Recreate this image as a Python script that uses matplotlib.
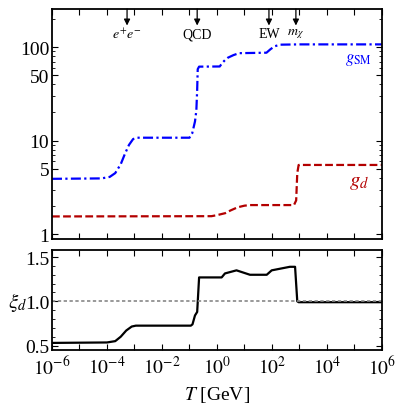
import numpy as np
import matplotlib
matplotlib.use("Agg")
import matplotlib.pyplot as plt
from matplotlib.ticker import FixedLocator, NullLocator, FuncFormatter

plt.rcParams["font.family"] = ["Liberation Serif", "DejaVu Serif"]
plt.rcParams["mathtext.fontset"] = "stix"

# log10(T/GeV) and values
logT_sm = [-6, -4.2, -3.9, -3.7, -3.5, -3.35, -3.2, -3.05, -2.9, -1.0, -0.9, -0.8,
           -0.75, -0.72, -0.7, -0.65, 0.1, 0.2, 0.3, 0.4, 0.6, 0.8, 1.8, 1.95, 2.1, 2.3, 3.0, 6.0]
g_sm = [3.91, 3.95, 4.1, 4.5, 5.6, 7.2, 9.0, 10.4, 10.75, 10.75, 12, 16,
        21, 35, 58, 61.75, 62, 68, 73, 77, 82, 86, 87, 95, 102, 106, 106.75, 106.75]

logT_d = [-6, -0.2, 0.0, 0.3, 0.5, 0.75, 1.0, 1.2, 2.8, 2.88, 2.92, 2.97, 6.0]
g_d = [1.55, 1.56, 1.6, 1.68, 1.8, 1.94, 2.02, 2.05, 2.05, 2.3, 4.5, 5.5, 5.5]

logT_xi = [-6, -4.0, -3.7, -3.5, -3.3, -3.1, -2.95, -0.95, -0.89, -0.8, -0.72, -0.65,
           0.17, 0.29, 0.47, 0.71, 1.2, 1.81, 1.99, 2.65, 2.84, 2.92, 2.97, 6.0]
xi_d = [0.53, 0.535, 0.55, 0.6, 0.67, 0.715, 0.725, 0.725, 0.74, 0.84, 0.88, 1.27,
        1.27, 1.315, 1.33, 1.35, 1.30, 1.30, 1.35, 1.39, 1.39, 1.0, 0.99, 0.99]

marks = [r"$e^{+}e^{-}$", "QCD", "EW", r"$m_\chi$"]
mark_logT = [-3.27, -0.72, 1.89, 2.87]

fig = plt.figure(figsize=(3.95, 4.06), dpi=100)
ax1 = fig.add_axes([0.1316, 0.410, 0.8354, 0.5654])
ax2 = fig.add_axes([0.1316, 0.1355, 0.8354, 0.2463])

ax1.plot(10.0 ** np.array(logT_sm), g_sm, color="#0000ff", lw=1.6, ls=(0, (4.5, 1.5, 1, 1.5)))
ax1.plot(10.0 ** np.array(logT_d), g_d, color="#b30000", lw=1.6, ls=(0, (3.5, 1.5)))
ax1.set_xscale("log")
ax1.set_yscale("log")
ax1.set_xlim(1e-6, 1e6)
ax1.set_ylim(0.9, 255)

ax1.text(0.93, 0.782, r"$g_{\mathrm{SM}}$", transform=ax1.transAxes, color="#0000ff",
         fontsize=12, ha="center", va="center")
ax1.text(0.93, 0.25, r"$g_d$", transform=ax1.transAxes, color="#b30000",
         fontsize=15, ha="center", va="center")

trans = ax1.get_xaxis_transform()
for lab, lt in zip(marks, mark_logT):
    ax1.annotate("", xy=(10.0 ** lt, 0.928), xytext=(10.0 ** lt, 1.0), xycoords=trans,
                 textcoords=trans,
                 arrowprops=dict(arrowstyle="-|>", color="black", lw=0.9,
                                 mutation_scale=9, shrinkA=0, shrinkB=0))
    ax1.text(10.0 ** lt, 0.893, lab, transform=trans, ha="center", va="center", fontsize=10)

ax2.plot(10.0 ** np.array(logT_xi), xi_d, color="black", lw=1.6)
ax2.axhline(1.0, color="#888888", lw=1.2, ls=(0, (2, 1.5)))
ax2.set_xscale("log")
ax2.set_xlim(1e-6, 1e6)
ax2.set_ylim(0.45, 1.58)

decades = 10.0 ** np.arange(-6, 7)
for ax in (ax1, ax2):
    ax.xaxis.set_major_locator(FixedLocator(decades))
    ax.xaxis.set_minor_locator(NullLocator())
    ax.tick_params(which="both", direction="in", top=True, right=True, labelsize=14)
    ax.tick_params(which="major", length=4.5, width=0.8)
    ax.tick_params(which="minor", length=2.5, width=0.6)
    for s in ax.spines.values():
        s.set_linewidth(1.3)

ax1.xaxis.set_major_formatter(FuncFormatter(lambda v, p: ""))
ax2.xaxis.set_major_formatter(FuncFormatter(
    lambda v, p: (r"$10^{%d}$" % round(np.log10(v))) if round(np.log10(v)) % 2 == 0 else ""))

ax1.yaxis.set_major_locator(FixedLocator([1, 5, 10, 50, 100]))
ax1.yaxis.set_major_formatter(FuncFormatter(lambda v, p: "%d" % v))
minor_g = [m * 10.0 ** e for e in range(0, 3) for m in range(2, 10) if m != 5]
ax1.yaxis.set_minor_locator(FixedLocator(minor_g))

ax2.yaxis.set_major_locator(FixedLocator([0.5, 1.0, 1.5]))
ax2.yaxis.set_major_formatter(FuncFormatter(lambda v, p: "%.1f" % v))
ax2.yaxis.set_minor_locator(FixedLocator(np.arange(0.5, 1.55, 0.1)))
ax2.tick_params(axis="y", pad=2)
ax1.tick_params(axis="y", pad=2)

ax2.set_xlabel(r"$T$ [GeV]", fontsize=14, labelpad=5)
ax2.set_ylabel(r"$\xi_d$", fontsize=15, rotation=0, va="center")
ax2.yaxis.set_label_coords(-0.105, 0.487)

fig.savefig("out.png", dpi=100)
